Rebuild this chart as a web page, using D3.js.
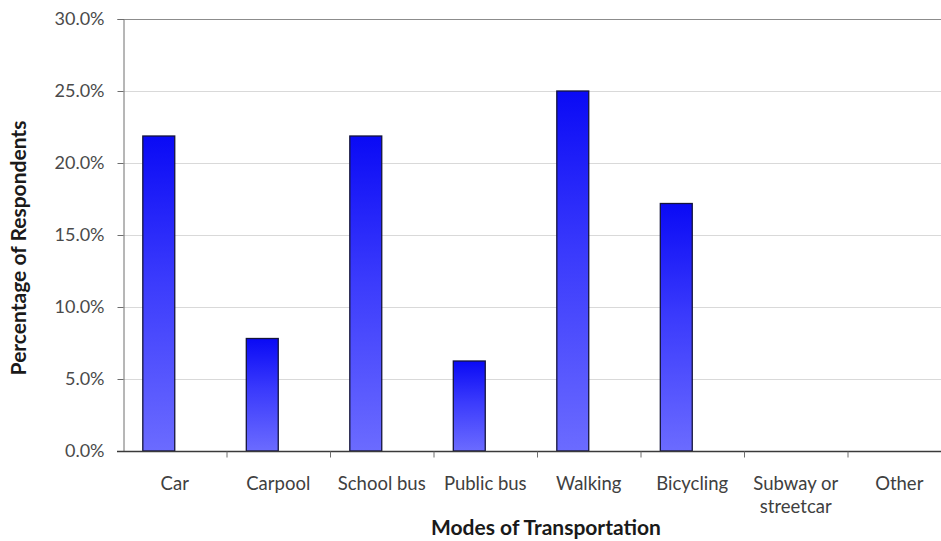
<!DOCTYPE html>
<html>
<head>
<meta charset="utf-8">
<script src="https://cdn.jsdelivr.net/npm/d3@7"></script>
<style>
  html, body { margin: 0; padding: 0; background: #fff; }
  svg { display: block; font-family: Lato, "Open Sans", sans-serif; }
</style>
</head>
<body>
<svg id="chart" width="941" height="541"></svg>
<script>
// Survey: how respondents get around
const categories = ["Car", "Carpool", "School bus", "Public bus", "Walking", "Bicycling", "Subway or\nstreetcar", "Other"];
const shares = [21.875, 7.8125, 21.875, 6.25, 25.0, 17.1875, 0, 0];
// second slot in each group is an empty series, which is why bars sit left of centre
const seriesKeys = ["shown", "empty"];
const yTicks = [0, 5, 10, 15, 20, 25, 30];
const xTitle = "Modes of Transportation";
const yTitle = "Percentage of Respondents";

const svg = d3.select("#chart");
const plot = { left: 123, right: 951, top: 19, bottom: 451 };

const x = d3.scaleBand().domain(categories).range([plot.left, plot.right]).padding(0);
const xs = d3.scaleBand().domain(seriesKeys).range([0, x.bandwidth()]).paddingInner(0).paddingOuter(0.62);
const y = d3.scaleLinear().domain([0, 30]).range([plot.bottom, plot.top]);

// bar fill: deep blue at the top fading to periwinkle at the base
const defs = svg.append("defs");
const grad = defs.append("linearGradient")
  .attr("id", "barFill").attr("x1", 0).attr("y1", 0).attr("x2", 0).attr("y2", 1);
grad.append("stop").attr("offset", "0%").attr("stop-color", "#0a0af5");
grad.append("stop").attr("offset", "45%").attr("stop-color", "#3a3afc");
grad.append("stop").attr("offset", "100%").attr("stop-color", "#6b6bff");

// horizontal gridlines
svg.append("g")
  .selectAll("line")
  .data(yTicks.filter(t => t > 0))
  .join("line")
  .attr("x1", plot.left).attr("x2", plot.right)
  .attr("y1", d => y(d) + 0.5).attr("y2", d => y(d) + 0.5)
  .attr("stroke", d => d === 30 ? "#8c8c8c" : "#d9d9d9")
  .attr("stroke-width", 1);

// bars
svg.append("g")
  .selectAll("rect")
  .data(categories.map((c, i) => ({ c, v: shares[i] })).filter(d => d.v > 0))
  .join("rect")
  .attr("x", d => x(d.c) + xs("shown"))
  .attr("width", xs.bandwidth())
  .attr("y", d => y(d.v))
  .attr("height", d => y(0) - y(d.v))
  .attr("fill", "url(#barFill)")
  .attr("stroke", "#14143c")
  .attr("stroke-width", 1.3);

// y axis
const yAxis = d3.axisLeft(y)
  .tickValues(yTicks)
  .tickSize(6)
  .tickPadding(13)
  .tickFormat(d => d3.format(".1f")(d) + "%");
const gy = svg.append("g").attr("transform", `translate(${plot.left + 0.5},0)`).call(yAxis);
gy.select(".domain").attr("stroke", "#6e6e6e");
gy.selectAll(".tick line").attr("stroke", "#6e6e6e");
gy.selectAll(".tick text")
  .attr("fill", "#4a4a4a")
  .style("font-size", "18px")
  .style("font-family", "Lato, sans-serif");

// x axis: ticks between categories
const gx = svg.append("g").attr("transform", `translate(0,${plot.bottom + 0.5})`);
gx.append("line")
  .attr("x1", plot.left - 6).attr("x2", plot.right)
  .attr("stroke", "#3a3a3a").attr("stroke-width", 1.3);
gx.selectAll("line.sep")
  .data(categories.slice(1))
  .join("line")
  .attr("class", "sep")
  .attr("x1", d => x(d) + 0.5).attr("x2", d => x(d) + 0.5)
  .attr("y1", 0).attr("y2", 6)
  .attr("stroke", "#6e6e6e");

// category labels (multi-line where needed)
const lab = gx.selectAll("text.cat")
  .data(categories)
  .join("text")
  .attr("class", "cat")
  .attr("text-anchor", "middle")
  .attr("fill", "#404040")
  .style("font-size", "18.5px")
  .attr("transform", d => `translate(${x(d) + x.bandwidth() / 2},38)`);
lab.selectAll("tspan")
  .data(d => d.split("\n"))
  .join("tspan")
  .attr("x", 0)
  .attr("dy", (d, i) => i === 0 ? 0 : "1.25em")
  .text(d => d);

// axis titles
svg.append("text")
  .attr("x", 546)
  .attr("y", 535)
  .attr("text-anchor", "middle")
  .attr("fill", "#1a1a1a")
  .style("font-size", "21px")
  .style("font-weight", "bold")
  .text(xTitle);

svg.append("text")
  .attr("transform", `translate(26,248) rotate(-90)`)
  .attr("text-anchor", "middle")
  .attr("fill", "#1a1a1a")
  .style("font-size", "21px")
  .style("font-weight", "bold")
  .text(yTitle);
</script>
</body>
</html>
